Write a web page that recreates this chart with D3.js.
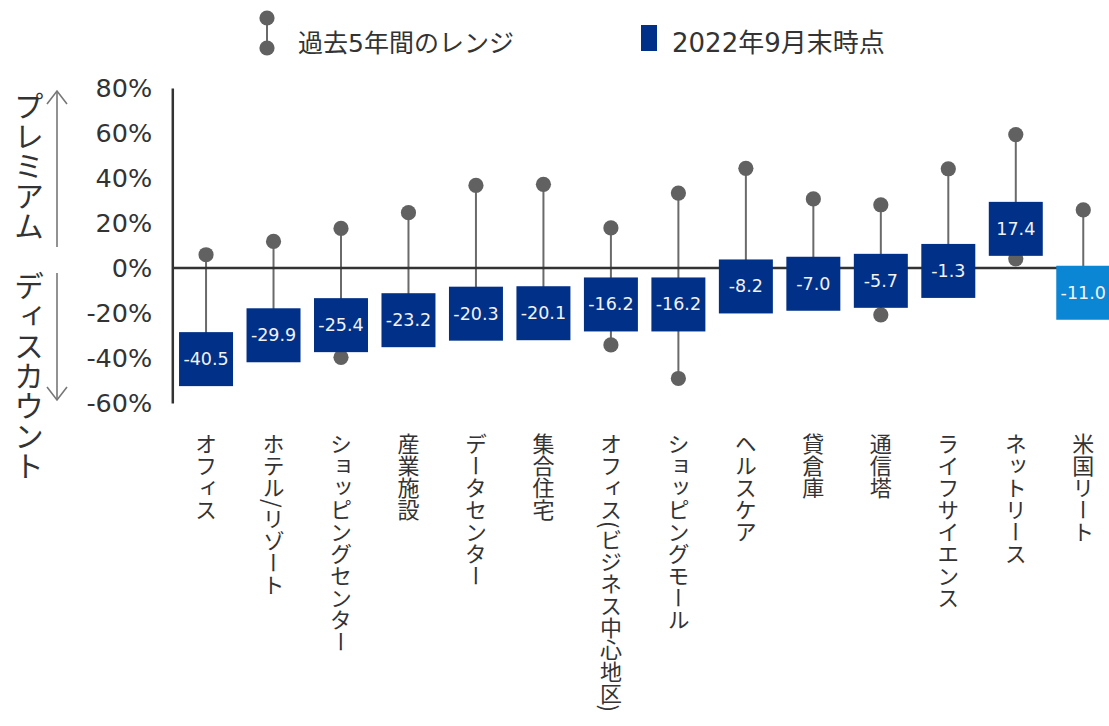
<!DOCTYPE html>
<html><head><meta charset="utf-8">
<script src="https://cdn.jsdelivr.net/npm/d3@7"></script>
<style>
html,body{margin:0;padding:0;background:#fff;}
svg text{font-family:"Noto Sans CJK JP","Noto Sans",sans-serif;}
</style></head>
<body>
<svg id="chart" width="1109" height="726"></svg>
<script>
const categories = ["オフィス","ホテル/リゾート","ショッピングセンター","産業施設","データセンター","集合住宅","オフィス(ビジネス中心地区)","ショッピングモール","ヘルスケア","貸倉庫","通信塔","ライフサイエンス","ネットリース","米国リート"];
const current = [-40.5,-29.9,-25.4,-23.2,-20.3,-20.1,-16.2,-16.2,-8.2,-7.0,-5.7,-1.3,17.4,-11.0];
const high5y = [5.9,11.8,17.6,24.6,36.7,37.2,17.8,33.3,44.3,30.7,28.1,44.1,59.3,25.8];
const low5y = [-40.5,-29.9,-39.7,-23.2,-20.3,-20.1,-34.2,-49.1,-8.2,-7.0,-20.8,-1.3,4.1,-11.0];
const yTicks = [-60,-40,-20,0,20,40,60,80];
const legendLabels = ["過去5年間のレンジ","2022年9月末時点"];
const yTitle = "プレミアム　ディスカウント";

const navy = "#003087", lightBlue = "#0a86d4", dotGray = "#616161", textCol = "#333";
const numFont = '"DejaVu Sans","Noto Sans CJK JP",sans-serif';

const svg = d3.select("#chart");
const x = d3.scalePoint().domain(categories).range([172.3, 1117]).padding(0.5);
const y = d3.scaleLinear().domain([-60, 80]).range([403, 88]);
const boxW = x.step() * 0.8;

// y axis
const yAxis = svg.append("g").attr("transform","translate(172.3,0)")
  .call(d3.axisLeft(y).tickValues(yTicks).tickSize(0).tickPadding(20).tickFormat(d => d + "%"));
yAxis.select(".domain").attr("stroke","#333").attr("stroke-width",2.5);
yAxis.selectAll("text").attr("font-size",25.5).attr("fill",textCol)
  .style("font-family",numFont);

// y title vertical
svg.append("text").attr("x",29).attr("y",91)
  .style("writing-mode","vertical-rl").attr("font-size",30).attr("fill",textCol)
  .text(yTitle);

// arrows
const arrowG = svg.append("g").attr("stroke","#777").attr("stroke-width",1.6).attr("fill","none");
arrowG.append("line").attr("x1",57).attr("x2",57).attr("y1",91).attr("y2",247);
arrowG.append("path").attr("d","M47,104 L57,91 L67,104");
arrowG.append("line").attr("x1",57).attr("x2",57).attr("y1",273).attr("y2",400);
arrowG.append("path").attr("d","M47,387 L57,400 L67,387");

// whiskers
const data = categories.map((c,i)=>({c, cur:current[i], hi:high5y[i], lo:low5y[i], i}));
svg.append("g").selectAll("line").data(data).join("line")
  .attr("x1",d=>x(d.c)).attr("x2",d=>x(d.c))
  .attr("y1",d=>y(d.hi)).attr("y2",d=>y(d.lo))
  .attr("stroke","#6a6a6a").attr("stroke-width",2);

// zero line
svg.append("line").attr("x1",172.3).attr("x2",1109).attr("y1",y(0)).attr("y2",y(0))
  .attr("stroke","#333").attr("stroke-width",2.5);

// dots
const dg = svg.append("g").attr("fill",dotGray);
dg.selectAll("circle.hi").data(data).join("circle").attr("class","hi")
  .attr("cx",d=>x(d.c)).attr("cy",d=>y(d.hi)).attr("r",7.6);
dg.selectAll("circle.lo").data(data).join("circle").attr("class","lo")
  .attr("cx",d=>x(d.c)).attr("cy",d=>y(d.lo)).attr("r",7.6);

// boxes
const bg = svg.append("g");
bg.selectAll("rect").data(data).join("rect")
  .attr("x",d=>x(d.c)-boxW/2).attr("y",d=>y(d.cur)-boxW/2)
  .attr("width",boxW).attr("height",boxW)
  .attr("fill",(d)=> d.i === categories.length-1 ? lightBlue : navy);
bg.selectAll("text").data(data).join("text")
  .attr("x",d=>x(d.c)).attr("y",d=>y(d.cur))
  .attr("text-anchor","middle").attr("dominant-baseline","central")
  .attr("font-size",17.5).attr("fill","#f2f2f2")
  .style("font-family",numFont)
  .text(d=>d.cur.toFixed(1));

// category labels (vertical)
svg.append("g").selectAll("text").data(categories).join("text")
  .attr("x",d=>x(d)).attr("y",433)
  .style("writing-mode","vertical-rl")
  .attr("font-size",22).attr("fill",textCol)
  .text(d=>d);

// legend
const lg = svg.append("g");
lg.append("line").attr("x1",267).attr("x2",267).attr("y1",18).attr("y2",48).attr("stroke","#6a6a6a").attr("stroke-width",2);
lg.append("circle").attr("cx",267).attr("cy",18).attr("r",7.6).attr("fill",dotGray);
lg.append("circle").attr("cx",267).attr("cy",48).attr("r",7.6).attr("fill",dotGray);
lg.append("text").attr("x",298).attr("y",43).attr("dominant-baseline","central").attr("font-size",25).attr("fill",textCol)
  .style("font-family",numFont).text(legendLabels[0]);
lg.append("rect").attr("x",641).attr("y",25).attr("width",16).attr("height",26).attr("fill",navy);
lg.append("text").attr("x",672).attr("y",43).attr("dominant-baseline","central").attr("font-size",26).attr("fill",textCol)
  .style("font-family",numFont).text(legendLabels[1]);
</script>
</body></html>
